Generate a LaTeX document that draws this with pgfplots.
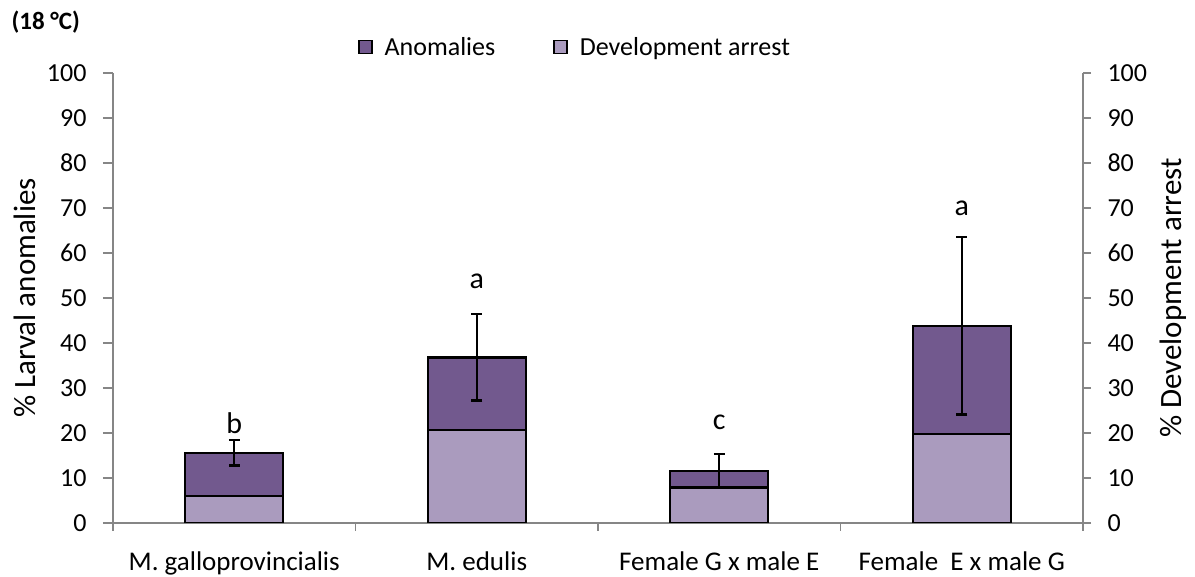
\documentclass[border=0pt]{standalone}
\usepackage{pgfplots}
\pgfplotsset{compat=1.18}
\usepackage{fontspec}
\setmainfont{Carlito}
\definecolor{anom}{RGB}{114,89,142}
\definecolor{dev}{RGB}{170,155,190}
\definecolor{axgray}{RGB}{134,134,134}
\pgfplotsset{
  common/.style={
    at={(113pt,54pt)}, anchor=south west,
    scale only axis, width=970pt, height=450pt,
    xmin=-0.5, xmax=3.5, ymin=0, ymax=100,
    /pgf/number format/assume math mode=true,
    axis line style={-, axgray, line width=1.6pt},
    ytick={0,10,...,100},
    tick align=outside,
    major tick length=10pt,
    every tick/.style={axgray, line width=1.6pt},
    tick label style={font=\fontsize{26}{30}\selectfont, text=black},
  }
}
\begin{document}
\begin{tikzpicture}
\path[use as bounding box] (0,0) rectangle (1195pt,577pt);
\node[anchor=west, font=\bfseries\fontsize{25}{30}\selectfont] at (8pt,555pt) {(18 °C)};
\begin{axis}[
  common,
  ybar stacked, bar width=98pt,
  axis x line*=bottom, axis y line*=left,
  xtick={0,1,2,3},
  xticklabels={M. galloprovincialis, M. edulis, Female G x male E, Female\ \ E x male G},
  major x tick style={draw=none},
  minor xtick={-0.5,0.5,1.5,2.5,3.5},
  minor tick length=8pt,
  xticklabel style={yshift=-15pt, font=\fontsize{27}{31}\selectfont},
  yticklabel style={xshift=-13pt},
  every axis y label/.style={at={(axis description cs:-0.0907,0.5)}, rotate=90, anchor=center, font=\fontsize{31}{36}\selectfont},
  ylabel={\% Larval anomalies},
]
\addplot[fill=dev, draw=black, line width=2.4pt] coordinates {(0,6.0) (1,20.6) (2,7.9) (3,19.8)};
\addplot[fill=anom, draw=black, line width=2.4pt] coordinates {(0,9.6) (1,16.2) (2,3.7) (3,24.0)};
\node[font=\fontsize{30}{34}\selectfont] at (axis cs:0,22.2) {b};
\node[font=\fontsize{30}{34}\selectfont] at (axis cs:1,53.6) {a};
\node[font=\fontsize{30}{34}\selectfont] at (axis cs:2,22.4) {c};
\node[font=\fontsize{30}{34}\selectfont] at (axis cs:3,70.0) {a};
\end{axis}
\begin{axis}[
  common,
  axis x line=none, axis y line*=right,
  major tick length=8pt,
  yticklabel style={xshift=13pt},
  every axis y label/.style={at={(axis description cs:1.0928,0.5)}, rotate=90, anchor=center, font=\fontsize{31}{36}\selectfont},
  ylabel={\% Development arrest},
  legend columns=2,
  legend style={at={(0.2526,1.0578)}, anchor=west, draw=none, fill=none,
    inner sep=0pt, outer sep=0pt,
    font=\fontsize{26}{30}\selectfont,
    /tikz/every odd column/.append style={column sep=10pt},
    /tikz/every even column/.append style={column sep=56pt}},
  legend image code/.code={\draw[#1, draw=black, line width=1.6pt] (0pt,-6.5pt) rectangle (13pt,6.5pt);},
]
\addplot[draw=none, mark=none, forget plot,
  error bars/.cd, y dir=both, y explicit,
  error bar style={draw=black, line width=2.4pt},
  error mark options={rotate=90, mark size=5.5pt, line width=2.4pt, draw=black}]
  coordinates {(0,15.6) +- (0,2.8) (1,36.8) +- (0,9.6) (2,11.6) +- (0,3.7) (3,43.8) +- (0,19.7)};
\addlegendimage{fill=anom}
\addlegendentry{Anomalies}
\addlegendimage{fill=dev}
\addlegendentry{Development arrest}
\end{axis}
\end{tikzpicture}
\end{document}
